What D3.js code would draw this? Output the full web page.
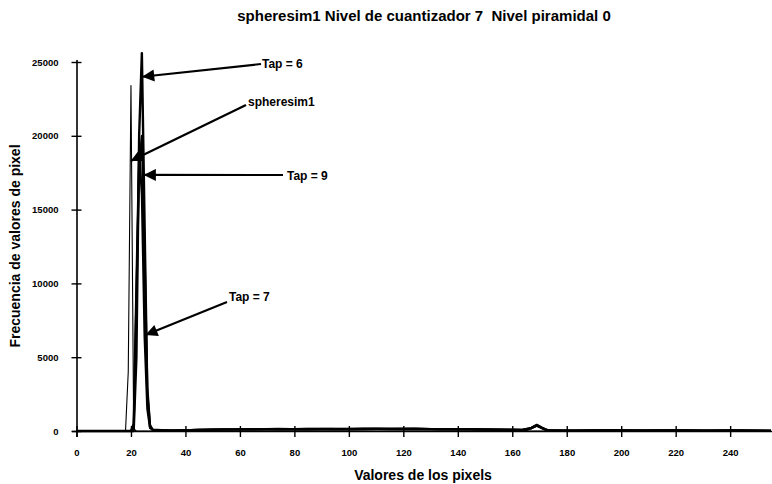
<!DOCTYPE html>
<html>
<head>
<meta charset="utf-8">
<script src="https://cdn.jsdelivr.net/npm/d3@7"></script>
<style>
  html, body { margin: 0; padding: 0; background: #fff; }
  svg text { font-family: "Liberation Sans", Arial, sans-serif; font-weight: bold; fill: #000; white-space: pre; }
</style>
</head>
<body>
<svg id="chart" width="772" height="484"></svg>
<script>
// Histogram of pixel values: [pixel value, frequency]
const spheresim1 = [[0,0],[17,0],[18,0],[19,4000],[20,23400],[21,150],[22,0],[30,0],[60,0],[120,0],[255,0]];

const tap6 = [[0,0],[20,0],[21,0],[22,5000],[23,20000],[24,25600],[25,14000],[26,2500],[27,300],[28,60],
  [35,30],[42,60],[50,90],[60,110],[70,130],[80,120],[90,140],[100,120],[110,150],[120,140],[130,130],
  [140,120],[150,100],[160,80],[165,60],[167,200],[169,380],[171,200],[173,30],[180,20],[190,40],
  [200,50],[210,20],[220,60],[230,20],[240,30],[250,20],[255,10]];

const tap9 = [[0,0],[20,0],[21,200],[22,9000],[23,18000],[24,20000],[25,12000],[26,3000],[27,400],[28,80],
  [35,20],[45,70],[55,100],[65,130],[75,110],[85,150],[95,130],[105,160],[115,130],[125,150],[135,110],
  [145,120],[155,90],[163,70],[167,180],[169,360],[171,180],[174,20],[185,30],[195,60],[205,20],
  [215,50],[225,30],[235,20],[245,30],[255,10]];

const tap7 = [[0,0],[20,0],[21,500],[22,10000],[23,19000],[24,16000],[25,6400],[26,1500],[27,200],[28,100],
  [36,10],[44,80],[54,120],[64,100],[74,140],[84,110],[94,150],[104,130],[114,140],[124,160],[134,120],
  [144,130],[154,80],[164,90],[167,220],[169,420],[171,220],[173,40],[182,30],[192,50],[202,30],
  [212,40],[222,50],[232,20],[242,40],[255,20]];

const xTicks = [0,20,40,60,80,100,120,140,160,180,200,220,240];
const yTicks = [0,5000,10000,15000,20000,25000];

const titleText = "spheresim1 Nivel de cuantizador 7  Nivel piramidal 0";
const xTitle = "Valores de los pixels";
const yTitle = "Frecuencia de valores de pixel";

// Callout labels: text, label anchor, arrow start, arrow target (pixel value, frequency)
const callouts = [
  { text: "Tap = 6",    lx: 262, ly: 68,  sx: 261, sy: 64,  tv: 24.1, tf: 24000 },
  { text: "spheresim1", lx: 248, ly: 106, sx: 246, sy: 105, tv: 19.9, tf: 18300 },
  { text: "Tap = 9",    lx: 287, ly: 180, sx: 283, sy: 175, tv: 24.7, tf: 17350 },
  { text: "Tap = 7",    lx: 229, ly: 301, sx: 227, sy: 302, tv: 25.3, tf: 6500 }
];

const svg = d3.select("#chart");

const x = d3.scaleLinear().domain([0, 255]).range([76.5, 771]);
const y = d3.scaleLinear().domain([0, 25000]).range([431, 62]);

// Axes with ticks crossing the axis line
const xAxis = d3.axisBottom(x).tickValues(xTicks).tickSizeInner(6).tickSizeOuter(0).tickPadding(10);
const yAxis = d3.axisLeft(y).tickValues(yTicks).tickFormat(d3.format("d"))
  .tickSizeInner(6).tickSizeOuter(0).tickPadding(12);

const gx = svg.append("g").attr("transform", `translate(0,${y(0)})`).call(xAxis);
gx.select(".domain").attr("d", `M72,0.5H772`).attr("stroke", "#000").attr("stroke-width", 1.6);
gx.selectAll(".tick line").attr("y1", -5).attr("y2", 6).attr("stroke-width", 1.4);
gx.selectAll(".tick text").attr("font-size", 9.5).attr("dy", "0.9em");

const gy = svg.append("g").attr("transform", `translate(${x(0)},0)`).call(yAxis);
gy.select(".domain").attr("d", `M0.5,${y(25000) - 2}V${y(0) + 6}`).attr("stroke", "#000").attr("stroke-width", 1.6);
gy.selectAll(".tick line").attr("x1", -5).attr("x2", 5).attr("stroke-width", 1.4);
gy.selectAll(".tick text").attr("font-size", 9.5);
svg.selectAll(".tick text").style("font-family", "'Liberation Sans', Arial, sans-serif").style("font-weight", "bold");

// Series lines
const line = d3.line().x(d => x(d[0])).y(d => y(d[1]));
const series = [
  { data: tap7, w: 2.2 },
  { data: tap9, w: 2.2 },
  { data: tap6, w: 2.4 },
  { data: spheresim1, w: 1.1 }
];
svg.append("g").selectAll("path").data(series).join("path")
  .attr("d", s => line(s.data))
  .attr("fill", "none")
  .attr("stroke", "#000")
  .attr("stroke-width", s => s.w)
  .attr("stroke-linejoin", "round");

// Titles
svg.append("text").attr("x", 424).attr("y", 21).attr("text-anchor", "middle")
  .attr("font-size", 15).text(titleText);
svg.append("text").attr("x", 423).attr("y", 480).attr("text-anchor", "middle")
  .attr("font-size", 14).text(xTitle);
svg.append("text").attr("transform", "translate(20,246) rotate(-90)").attr("text-anchor", "middle")
  .attr("font-size", 14).text(yTitle);

// Callout arrows
const defs = svg.append("defs");
defs.append("marker").attr("id", "head").attr("viewBox", "0 0 10 10")
  .attr("refX", 10).attr("refY", 5).attr("markerWidth", 8).attr("markerHeight", 5.5)
  .attr("markerUnits", "strokeWidth").attr("orient", "auto")
  .append("path").attr("d", "M0,0L10,5L0,10Z").attr("fill", "#000");

const cg = svg.append("g");
cg.selectAll("line").data(callouts).join("line")
  .attr("x1", d => d.sx).attr("y1", d => d.sy)
  .attr("x2", d => x(d.tv)).attr("y2", d => y(d.tf))
  .attr("stroke", "#000").attr("stroke-width", 2.2)
  .attr("marker-end", "url(#head)");
cg.selectAll("text").data(callouts).join("text")
  .attr("x", d => d.lx).attr("y", d => d.ly)
  .attr("font-size", 12).text(d => d.text);
</script>
</body>
</html>
